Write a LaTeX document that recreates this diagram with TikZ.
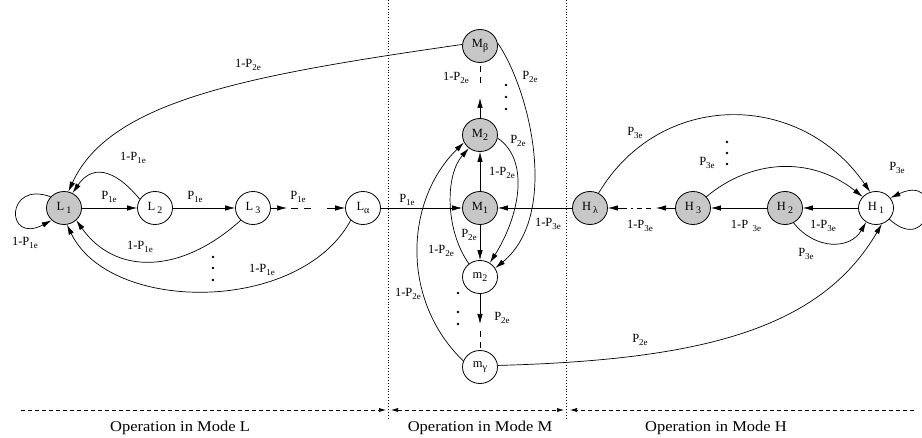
\documentclass[tikz,border=0pt]{standalone}
\usepackage{fontspec}
\setmainfont{Liberation Serif}
\newfontfamily\modefont[FakeStretch=1.1]{Liberation Serif}
\usetikzlibrary{arrows.meta,shapes.geometric}
\newcommand\lo[1]{\raisebox{-3.5pt}{\fontsize{9}{9}\selectfont #1}}
\newcommand\nlo[1]{\raisebox{-3.5pt}{\fontsize{10}{10}\selectfont #1}}
\newcommand\pe[1]{P\lo{#1}}
\newcommand\ope[1]{1-P\lo{#1}}
\tikzset{
 st/.style={ellipse, draw, line width=0.8pt, minimum width=35pt, minimum height=33pt, inner sep=0pt, font=\fontsize{12.5}{12.5}\selectfont},
 gst/.style={st, fill=black!22},
 arr/.style={-{Latex[length=10pt,width=5.5pt]}, line width=0.7pt},
 ln/.style={line width=0.7pt},
 dsh/.style={line width=0.7pt, dash pattern=on 6pt off 5pt},
 lbl/.style={font=\fontsize{12.5}{12.5}\selectfont, inner sep=0pt},
 dotn/.style={circle, fill, inner sep=0pt, minimum size=2.8pt},
 vdot/.style={line width=0.6pt, dash pattern=on 0.9pt off 2pt},
 bdash/.style={line width=0.6pt, dash pattern=on 4pt off 3pt},
 btip/.style={-{Latex[length=7pt,width=4pt]}},
 btips/.style={{Latex[length=7pt,width=4pt]}-{Latex[length=7pt,width=4pt]}},
 modelbl/.style={font=\modefont\fontsize{15}{15}\selectfont, inner sep=0pt}
}
\begin{document}
\begin{tikzpicture}[x=1pt,y=-1pt]
\useasboundingbox (0,0) rectangle (922,438);

% dotted separators
\coordinate (v1t) at (388,0); \coordinate (v1b) at (388,420);
\coordinate (v2t) at (566,0); \coordinate (v2b) at (566,420);
\draw[vdot] (v1t) -- (v1b);
\draw[vdot] (v2t) -- (v2b);

% nodes
\node[gst] (L1) at (64,208) {L\,\nlo{1}};
\node[st] (L2) at (155,208) {L\,\nlo{2}};
\node[st] (L3) at (253,208) {L\,\nlo{3}};
\node[st] (La) at (363,208) {L\nlo{α}};
\node[gst] (Mb) at (480,46) {M\nlo{β}};
\node[gst] (M2) at (480,135) {M\nlo{2}};
\node[gst] (M1) at (480,208) {M\nlo{1}};
\node[st] (m2) at (480,277) {m\nlo{2}};
\node[st] (mg) at (480,367) {m\nlo{γ}};
\node[gst] (Hl) at (590,208) {H\,\nlo{λ}};
\node[gst] (H3) at (693,208) {H\,\nlo{3}};
\node[gst] (H2) at (785,208) {H\,\nlo{2}};
\node[st] (H1) at (876,208) {H\,\nlo{1}};

% Mode L
\draw[arr] (L1.140) .. controls (5,180) and (5,245) .. (L1.225);
\draw[arr] (L1) -- (L2);
\draw[arr] (L2) -- (L3);
\coordinate (a1) at (287,208); \coordinate (a2) at (291,208);
\coordinate (a3) at (314,208); \coordinate (a4) at (327,208);
\draw[arr] (L3) -- (a1);
\draw[ln, dash pattern=on 7pt off 6pt] (a2) -- (a3);
\draw[arr] (a4) -- (La);
\draw[arr] (L2.150) .. controls (120,175) and (95,160) .. (L1.60);
\draw[arr] (L3.225) .. controls (180,275) and (115,275) .. (L1.-45);
\draw[arr] (La.225) .. controls (300,314) and (110,314) .. (L1.-80);
\draw[arr] (Mb.175) .. controls (250,75) and (110,100) .. (L1.75);
\draw[arr] (La) -- (M1);

% Mode M
\draw[arr] (M1) -- (M2);
\coordinate (b1) at (480,98); \coordinate (b2) at (480,83);
\draw[arr] (M2) -- (b1);
\draw[dsh] (b2) -- (Mb);
\draw[arr] (Mb.10) .. controls (530,90) and (560,215) .. (m2.30);
\draw[arr] (M2.-10) .. controls (530,160) and (520,215) .. (m2.55);
\draw[arr] (M1) -- (m2);
\draw[arr] (m2.130) .. controls (445,230) and (445,175) .. (M2.230);
\draw[arr] (mg.160) .. controls (400,300) and (405,200) .. (M2.205);
\coordinate (c1) at (480,324); \coordinate (c2) at (480,331);
\draw[arr] (m2) -- (c1);
\draw[dsh] (c2) -- (mg);
\draw[arr] (mg.5) .. controls (700,360) and (820,330) .. (H1.290);
\draw[arr] (Hl) -- (M1);

% Mode H
\draw[arr] (H1) -- (H2);
\draw[arr] (H2) -- (H3);
\coordinate (e1) at (656,208); \coordinate (e2) at (651,208);
\coordinate (e3) at (631,208); \coordinate (e4) at (627,208);
\draw[arr] (H3) -- (e1);
\draw[ln, dash pattern=on 5pt off 4pt] (e2) -- (e3);
\draw[arr] (e4) -- (Hl);
\draw[arr] (H1.-40) .. controls (932,258) and (945,172) .. (H1.35);
\draw[arr] (H2.-60) .. controls (815,250) and (850,250) .. (H1.235);
\draw[arr] (H3.40) .. controls (750,160) and (810,155) .. (H1.140);
\draw[arr] (Hl.60) .. controls (660,90) and (800,90) .. (H1.110);

% labels
\node[lbl] (t1) at (25,243) {\ope{1e}};
\node[lbl] (t2) at (109,197) {\pe{1e}};
\node[lbl] (t3) at (195,197) {\pe{1e}};
\node[lbl] (t4) at (298,197) {\pe{1e}};
\node[lbl] (t5) at (133,158) {\ope{1e}};
\node[lbl] (t6) at (140,247) {\ope{1e}};
\node[lbl] (t7) at (262,270) {\ope{1e}};
\node[lbl] (t8) at (248,65) {\ope{2e}};
\node[lbl] (t9) at (407,200) {\pe{1e}};
\node[lbl] (t10) at (502,173) {\ope{2e}};
\node[lbl] (t11) at (456,78) {\ope{2e}};
\node[lbl] (t12) at (530,77) {\pe{2e}};
\node[lbl] (t13) at (518,141) {\pe{2e}};
\node[lbl] (t14) at (469,235) {\pe{2e}};
\node[lbl] (t15) at (441,251) {\ope{2e}};
\node[lbl] (t16) at (408,294) {\ope{2e}};
\node[lbl] (t17) at (502,318) {\pe{2e}};
\node[lbl] (t18) at (640,340) {\pe{2e}};
\node[lbl] (t19) at (548,224) {\ope{3e}};
\node[lbl] (t20) at (823,226) {\ope{3e}};
\node[lbl] (t21) at (746,226) {1-P\,\,\lo{3e}};
\node[lbl] (t22) at (640,226) {\ope{3e}};
\node[lbl] (t23) at (897,168) {\pe{3e}};
\node[lbl] (t24) at (806,254) {\pe{3e}};
\node[lbl] (t25) at (707,163) {\pe{3e}};
\node[lbl] (t26) at (635,133) {\pe{3e}};

% dots
\node[dotn] (d1) at (213,257) {}; \node[dotn] (d2) at (213,268) {}; \node[dotn] (d3) at (213,280) {};
\node[dotn] (d4) at (506,85) {}; \node[dotn] (d5) at (506,97) {}; \node[dotn] (d6) at (506,109) {};
\node[dotn] (d7) at (458,293) {}; \node[dotn] (d8) at (458,312) {}; \node[dotn] (d9) at (458,324) {};
\node[dotn] (d10) at (727,142) {}; \node[dotn] (d11) at (727,153) {}; \node[dotn] (d12) at (727,164) {};

% bottom
\coordinate (g0) at (21,410); \coordinate (g1) at (386,410);
\coordinate (g2) at (391,410); \coordinate (g3) at (564,410);
\coordinate (g4) at (570,410); \coordinate (g5) at (914,410);
\draw[bdash, btip] (g0) -- (g1);
\draw[bdash, btips] (g2) -- (g3);
\draw[bdash, btip] (g5) -- (g4);
\node[modelbl] (o1) at (180,428) {Operation in Mode L};
\node[modelbl] (o2) at (480,428) {Operation in Mode M};
\node[modelbl] (o3) at (716,428) {Operation in Mode H};
\end{tikzpicture}
\end{document}
